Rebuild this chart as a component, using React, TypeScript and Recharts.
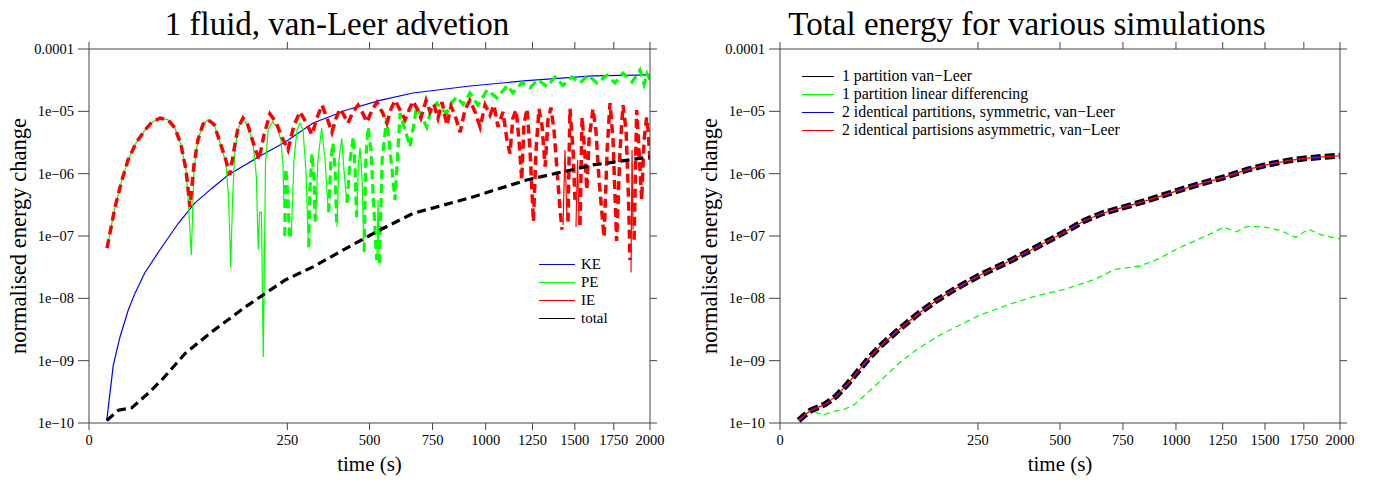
import React from "react";
import { LineChart, Line, XAxis, YAxis, Legend } from "recharts";

type Pt = [number, number];

const TIME_TICKS = [0, 250, 500, 750, 1000, 1250, 1500, 1750, 2000];
const ENERGY_TICKS = [1e-10, 1e-9, 1e-8, 1e-7, 1e-6, 1e-5, 1e-4];
const ENERGY_LABELS = ["1e\u221210", "1e\u221209", "1e\u221208", "1e\u221207", "1e\u221206", "1e\u221205", "0.0001"];

// left panel: signed normalised energy change [time (s), value]
// negative stretches are drawn thick dashed as |value|
const KE: Pt[] = [
  [2.0, 1.1e-10], [3.75, 8.5e-10], [6.1, 2.4e-9], [9.8, 6.5e-9], [13.4, 1.2e-8], [19.9, 2.6e-8],
  [33.6, 6.6e-8], [50.7, 1.6e-7], [71.4, 3.4e-7], [95.7, 5.8e-7], [123, 9.5e-7], [190, 2.0e-6],
  [244, 3.2e-6], [319, 6.5e-6], [422, 1.05e-5], [538, 1.5e-5], [667, 1.97e-5], [922, 2.55e-5],
  [1217, 3.1e-5], [1614, 3.7e-5], [2000, 3.85e-5],
];

const PE: Pt[] = [
  [2.06, 6.4e-8], [4.3, 2.9e-7], [6.9, 7.9e-7], [9.7, 1.66e-6], [14.0, 3.1e-6], [19.9, 5.0e-6],
  [25.2, 6.7e-6], [32.0, 7.8e-6], [39.7, 7.3e-6], [47.0, 5.4e-6], [53.8, 2.9e-6], [59.8, 1.15e-6],
  [62.5, 4.0e-7], [66.5, 4.9e-8], [70.1, 1.2e-6], [75.5, 3.5e-6], [82.6, 6.2e-6], [90.0, 7.3e-6],
  [99.3, 6.2e-6], [109, 3.2e-6], [119, 1.5e-6], [124, 4.0e-7], [127.6, 3.1e-8], [131, 4.0e-7],
  [135, 2.2e-6], [141, 5.2e-6], [150.7, 7.6e-6], [160.7, 5.8e-6], [171, 3.0e-6], [178, 9.0e-7],
  [182, 6.0e-8], [185, 2.4e-7], [189, 2.4e-7], [193, 1.15e-9], [198, 1.5e-6], [204, 5.0e-6],
  [214, 6.8e-6], [224.6, 5.6e-6], [234, 3.5e-6], [239, 1.4e-6], [242, 2.9e-7], [243.5, -1.0e-7],
  [246, -1.2e-6], [250, -6.0e-7], [256, -9.6e-8], [260, 9.6e-8], [267, 1.66e-6], [275, 5.0e-6],
  [283, 6.5e-6], [291, 5.0e-6], [299, 1.15e-6], [306, 6.6e-8], [307, -6.6e-8], [310, -5.5e-7],
  [316, -2.1e-6], [322, -7.9e-7], [325, -1.7e-7], [326, 1.7e-7], [333, 1.66e-6], [344, 5.4e-6],
  [354, 1.66e-6], [364, 2.4e-7], [365, -2.4e-7], [372, -1.66e-6], [378, -3.1e-6], [385, -1.15e-6],
  [390, -1.4e-7], [391, 1.4e-7], [397, 1.66e-6], [406, 3.7e-6], [413, 1.15e-6], [422, 3.4e-7],
  [423, -3.4e-7], [433, -1.66e-6], [444, -3.9e-6], [450, -1.15e-6], [455, -2.0e-7], [456, 2.0e-7],
  [461, 1.4e-6], [467, 2.6e-6], [474, 7.9e-7], [480, 5.6e-8], [481, -5.6e-8], [487, -1.66e-6],
  [495, -5.6e-6], [505, -2.4e-6], [514, -3.8e-7], [526, -4.1e-8], [527, 4.1e-8], [531, 3.8e-7],
  [535, 3.7e-8], [536, -3.7e-8], [546, -1.66e-6], [563, -7.8e-6], [576, -2.4e-6], [595, -3.8e-7],
  [615, -9.4e-6], [635, -5.0e-6], [655, -2.7e-6], [682, -1.17e-5], [700, -8.7e-6], [725, -5.6e-6],
  [743, -1.05e-5], [769, -1.36e-5], [787, -1.1e-5], [813, -9.4e-6], [837, -1.4e-5], [859, -1.7e-5],
  [889, -1.3e-5], [922, -1.97e-5], [961, -1.26e-5], [1007, -2.2e-5], [1058, -1.64e-5], [1112, -2.6e-5],
  [1142, -1.97e-5], [1191, -2.9e-5], [1236, -2.4e-5], [1281, -3.2e-5], [1333, -2.5e-5], [1380, -3.55e-5],
  [1428, -2.6e-5], [1482, -3.55e-5], [1532, -2.85e-5], [1582, -3.8e-5], [1640, -2.85e-5], [1705, -3.8e-5],
  [1758, -2.85e-5], [1812, -4.1e-5], [1874, -2.95e-5], [1929, -4.6e-5], [1958, -2.7e-5], [1979, -4.0e-5],
  [2000, -3.2e-5],
];

const IE: Pt[] = [
  [2.06, -6.4e-8], [4.3, -2.9e-7], [6.9, -7.9e-7], [9.7, -1.66e-6], [14.0, -3.1e-6], [19.9, -5.0e-6],
  [25.2, -6.7e-6], [32.0, -7.8e-6], [39.7, -7.3e-6], [47.0, -5.4e-6], [53.8, -2.9e-6], [59.8, -1.15e-6],
  [64.8, -2.9e-7], [70.1, -1.4e-6], [75.5, -3.5e-6], [82.6, -6.2e-6], [90.0, -7.3e-6], [99.3, -6.2e-6],
  [109, -3.2e-6], [119, -1.66e-6], [126, -9.5e-7], [133.6, -2.4e-6], [141, -5.4e-6], [150.7, -7.8e-6],
  [160.7, -6.0e-6], [171, -3.2e-6], [183.7, -1.66e-6], [194.6, -4.2e-6], [208, -9.1e-6], [222, -6.7e-6],
  [237, -3.8e-6], [251.7, -2.4e-6], [267, -6.0e-6], [283, -9.8e-6], [299, -6.7e-6], [316, -4.2e-6],
  [330, -7.8e-6], [345, -1.26e-5], [360, -7.8e-6], [375, -4.6e-6], [388, -7.8e-6], [400, -1.1e-5],
  [413, -8.7e-6], [426, -6.5e-6], [443, -9.8e-6], [460, -1.26e-5], [474, -9.8e-6], [491, -6.7e-6],
  [509, -1.05e-5], [527, -1.4e-5], [546, -9.8e-6], [564, -6.5e-6], [580, -1.1e-5], [595, -1.5e-5],
  [615, -1.05e-5], [635, -7.3e-6], [651, -1.05e-5], [667, -1.46e-5], [684, -1.1e-5], [700, -7.8e-6],
  [722, -1.5e-5], [739, -9.8e-6], [756, -1.3e-5], [774, -7.8e-6], [792, -1.4e-5], [814, -6.0e-6],
  [833, -1.2e-5], [851, -8.7e-6], [875, -4.6e-6], [898, -1.05e-5], [922, -1.5e-5], [947, -9.8e-6],
  [972, -5.6e-6], [997, -1.26e-5], [1022, -8.7e-6], [1042, -1.26e-5], [1063, -5.6e-6], [1089, -9.8e-6],
  [1110, -3.5e-6], [1126, -2.1e-6], [1142, -7.8e-6], [1159, -1.05e-5], [1175, -3.5e-6], [1190, -7.9e-7],
  [1202, -6.0e-6], [1219, -1.1e-5], [1236, -2.4e-6], [1255, -1.7e-7], [1270, -2.4e-6], [1287, -1.1e-5],
  [1304, -6.0e-6], [1322, -1.3e-6], [1339, -7.3e-6], [1356, -1.15e-5], [1374, -5.0e-6], [1392, -1.15e-6],
  [1410, -2.6e-7], [1422, -1.26e-7], [1428, 1.5e-7], [1440, 2.4e-6], [1452, 1.8e-7], [1458, -1.7e-7],
  [1470, -1.1e-5], [1489, -2.4e-6], [1501, -3.8e-7], [1507, 1.4e-7], [1517, 1.66e-6], [1526, 1.5e-7],
  [1532, -1.5e-7], [1545, -8.0e-6], [1561, -2.4e-6], [1575, -5.5e-7], [1589, -3.5e-6], [1614, -1.1e-5],
  [1633, -5.0e-6], [1653, -7.9e-7], [1686, -9.6e-8], [1706, -2.4e-6], [1725, -1.36e-5], [1745, -3.5e-6],
  [1769, -8.3e-8], [1792, -2.4e-6], [1812, -1.26e-5], [1833, -5.0e-6], [1850, -3.8e-7], [1860, -4.1e-8],
  [1867, 2.6e-8], [1874, 2.4e-6], [1881, 1.26e-7], [1888, -8.7e-8], [1906, -1.05e-5], [1922, -2.4e-6],
  [1941, -3.8e-7], [1958, -3.5e-6], [1976, -8.0e-6], [1986, -5.0e-6], [2000, -1.66e-6],
];

const TOTAL: Pt[] = [
  [2.0, -1.1e-10], [5.5, -1.6e-10], [11.6, -1.75e-10], [22.3, -3.0e-10], [33.6, -4.9e-10],
  [58.6, -1.3e-9], [95.7, -2.9e-9], [154.6, -7.2e-9], [244, -1.96e-8], [319, -3.2e-8],
  [422, -6.4e-8], [538, -1.25e-7], [667, -2.3e-7], [922, -4.1e-7], [1217, -7.9e-7],
  [1614, -1.38e-6], [2000, -1.85e-6],
];

// right panel: magnitude of total energy change per run
const VANLEER_1: Pt[] = [
  [2.2, 1.1e-10], [3.9, 1.34e-10], [5.9, 1.58e-10], [9.1, 1.78e-10], [13, 2.0e-10], [20.2, 2.7e-10],
  [29, 4.2e-10], [39.3, 6.9e-10], [51.2, 1.13e-9], [64.7, 1.74e-9], [90.7, 3.2e-9], [121, 5.6e-9],
  [156, 9.2e-9], [195, 1.41e-8], [252, 2.3e-8], [338, 4.0e-8], [419, 6.6e-8], [504, 1.08e-7],
  [591, 1.76e-7], [665, 2.34e-7], [755, 2.9e-7], [879, 3.9e-7], [1005, 5.3e-7], [1121, 6.8e-7],
  [1255, 8.7e-7], [1394, 1.16e-6], [1506, 1.38e-6], [1647, 1.62e-6], [1759, 1.76e-6], [1896, 1.87e-6],
  [2000, 1.94e-6],
];

const LINEAR_1: Pt[] = [
  [2.2, 1.1e-10], [5.9, 1.58e-10], [9.1, 1.45e-10], [12, 1.34e-10], [17.6, 1.52e-10], [25.9, 1.64e-10],
  [35.7, 2.0e-10], [47.1, 2.9e-10], [64.7, 4.8e-10], [90.7, 9.2e-10], [121, 1.54e-9], [156, 2.4e-9],
  [195, 3.4e-9], [252, 5.3e-9], [338, 8.1e-9], [419, 1.1e-8], [521, 1.41e-8], [635, 2.04e-8],
  [712, 2.9e-8], [827, 3.3e-8], [914, 4.3e-8], [1005, 6.2e-8], [1121, 9.0e-8], [1202, 1.15e-7],
  [1255, 1.38e-7], [1328, 1.17e-7], [1394, 1.43e-7], [1506, 1.38e-7], [1599, 1.22e-7], [1696, 9.5e-8],
  [1781, 1.29e-7], [1870, 1.04e-7], [2000, 9.0e-8],
];

// the two-partition van-Leer runs lie on top of the single partition run
const SYM_2: Pt[] = VANLEER_1;
const ASYM_2: Pt[] = VANLEER_1;

const LEFT_LEGEND = [
  { label: "KE", color: "#0000ff" },
  { label: "PE", color: "#00ff00" },
  { label: "IE", color: "#ff0000" },
  { label: "total", color: "#000000" },
];

const RIGHT_LEGEND = [
  { label: "1 partition van\u2212Leer", color: "#000000" },
  { label: "1 partition linear differencing", color: "#00ff00" },
  { label: "2 identical partitions, symmetric, van\u2212Leer", color: "#0000ff" },
  { label: "2 identical partisions asymmetric, van\u2212Leer", color: "#ff0000" },
];

const SERIF = '"Liberation Serif", "Times New Roman", serif';
const FRAME = "#444";

function energyLabel(v: number) {
  const i = ENERGY_TICKS.findIndex((e) => Math.abs(Math.log10(e) - Math.log10(v)) < 1e-6);
  return i >= 0 ? ENERGY_LABELS[i] : "";
}

// split signed data into the positive (solid) or negative (dashed) stretch
const part = (pts: Pt[], sign: number) =>
  pts.map(([t, v]) => ({ t, v: Math.sign(v) === sign ? Math.abs(v) : null }));

const asRows = (pts: Pt[]) => pts.map(([t, v]) => ({ t, v }));

interface LegendProps {
  items: { label: string; color: string }[];
  rowH: number;
  lineW: number;
  gap: number;
  fontSize: number;
}

function LegendBox({ items, rowH, lineW, gap, fontSize }: LegendProps) {
  return (
    <div style={{ fontFamily: SERIF, fontSize, color: "#000" }}>
      {items.map((it) => (
        <div key={it.label} style={{ position: "relative", height: rowH, whiteSpace: "nowrap" }}>
          <div
            style={{
              position: "absolute",
              left: 0,
              top: Math.floor(rowH / 2),
              width: lineW,
              height: 1,
              background: it.color,
            }}
          />
          <span style={{ position: "absolute", left: lineW + gap, top: 0, lineHeight: `${rowH}px` }}>{it.label}</span>
        </div>
      ))}
    </div>
  );
}

interface PanelProps {
  left: number;
  width: number;
  plotLeft: number;
  title: string;
  legend: React.ReactNode;
  legendPos: { left: number; top: number };
  children: React.ReactNode;
}

function Panel({ left, width, plotLeft, title, legend, legendPos, children }: PanelProps) {
  const tickStyle = { fill: "#000", fontSize: 14.5, fontFamily: SERIF };
  return (
    <div style={{ position: "absolute", left, top: 0, width, height: 484 }}>
      <div
        style={{
          position: "absolute",
          left: 0,
          top: 8,
          width: 674,
          textAlign: "center",
          fontFamily: SERIF,
          fontSize: 33,
          lineHeight: "33px",
          color: "#000",
          whiteSpace: "nowrap",
        }}
      >
        {title}
      </div>
      <LineChart
        width={width}
        height={484}
        margin={{ top: 42, right: width - 650 - 7, bottom: 6, left: plotLeft - 80 }}
        style={{ fontFamily: SERIF }}
      >
        <XAxis
          dataKey="t"
          type="number"
          scale="sqrt"
          domain={[0, 2000]}
          ticks={TIME_TICKS}
          interval={0}
          allowDataOverflow
          height={55}
          tickSize={7}
          tickMargin={5}
          axisLine={{ stroke: FRAME }}
          tickLine={{ stroke: FRAME }}
          tick={tickStyle}
          label={{ value: "time (s)", position: "insideBottom", offset: 7, fill: "#000", fontSize: 21, fontFamily: SERIF }}
        />
        <XAxis
          xAxisId="top"
          orientation="top"
          dataKey="t"
          type="number"
          scale="sqrt"
          domain={[0, 2000]}
          ticks={TIME_TICKS}
          interval={0}
          allowDataOverflow
          height={7}
          tickSize={7}
          axisLine={{ stroke: FRAME }}
          tickLine={{ stroke: FRAME }}
          tickFormatter={() => ""}
        />
        <YAxis
          type="number"
          scale="log"
          domain={[1e-10, 1e-4]}
          ticks={ENERGY_TICKS}
          interval={0}
          allowDataOverflow
          width={80}
          tickSize={11}
          tickMargin={4}
          axisLine={{ stroke: FRAME }}
          tickLine={{ stroke: FRAME }}
          tick={tickStyle}
          tickFormatter={energyLabel}
          label={{
            value: "normalised energy change",
            angle: -90,
            position: "insideLeft",
            offset: 9,
            fill: "#000",
            fontSize: 22.5,
            fontFamily: SERIF,
            style: { textAnchor: "middle" },
          }}
        />
        <YAxis
          yAxisId="right"
          orientation="right"
          type="number"
          scale="log"
          domain={[1e-10, 1e-4]}
          ticks={ENERGY_TICKS}
          interval={0}
          allowDataOverflow
          width={7}
          tickSize={7}
          axisLine={{ stroke: FRAME }}
          tickLine={{ stroke: FRAME }}
          tickFormatter={() => ""}
        />
        {children}
        <Legend
          layout="vertical"
          align="center"
          verticalAlign="middle"
          wrapperStyle={{ left: legendPos.left, top: legendPos.top, width: 340 }}
          content={() => legend}
        />
      </LineChart>
    </div>
  );
}

const DASH = "9 5";

export default function App() {
  return (
    <div style={{ position: "absolute", left: 0, top: 0, width: 1379, height: 484, background: "#fff", overflow: "hidden" }}>
      <Panel
        left={0}
        width={690}
        plotLeft={89}
        title="1 fluid, van-Leer advetion"
        legendPos={{ left: 539, top: 255 }}
        legend={<LegendBox items={LEFT_LEGEND} rowH={18} lineW={36} gap={6} fontSize={15} />}
      >
        <Line data={asRows(KE)} dataKey="v" stroke="#0000ff" strokeWidth={1.2} dot={false} isAnimationActive={false} legendType="none" />
        <Line data={part(PE, 1)} dataKey="v" stroke="#00ff00" strokeWidth={1.2} dot={false} isAnimationActive={false} legendType="none" />
        <Line data={part(PE, -1)} dataKey="v" stroke="#00ff00" strokeWidth={3.2} strokeDasharray={DASH} dot={false} isAnimationActive={false} legendType="none" />
        <Line data={part(IE, 1)} dataKey="v" stroke="#ff0000" strokeWidth={1.2} dot={false} isAnimationActive={false} legendType="none" />
        <Line data={part(IE, -1)} dataKey="v" stroke="#ff0000" strokeWidth={3.5} strokeDasharray={DASH} dot={false} isAnimationActive={false} legendType="none" />
        <Line data={part(TOTAL, -1)} dataKey="v" stroke="#000000" strokeWidth={3.2} strokeDasharray={DASH} dot={false} isAnimationActive={false} legendType="none" />
      </Panel>
      <Panel
        left={690}
        width={689}
        plotLeft={90}
        title="Total energy for various simulations"
        legendPos={{ left: 112, top: 67 }}
        legend={<LegendBox items={RIGHT_LEGEND} rowH={18} lineW={32} gap={8} fontSize={15.8} />}
      >
        <Line data={asRows(VANLEER_1)} dataKey="v" stroke="#000000" strokeWidth={6} strokeDasharray="10 4" dot={false} isAnimationActive={false} legendType="none" />
        <Line data={asRows(LINEAR_1)} dataKey="v" stroke="#00ff00" strokeWidth={1.3} strokeDasharray="6 4" dot={false} isAnimationActive={false} legendType="none" />
        <Line data={asRows(SYM_2)} dataKey="v" stroke="#0000ff" strokeWidth={2.4} strokeDasharray="6 8" strokeDashoffset={-2} dot={false} isAnimationActive={false} legendType="none" />
        <Line data={asRows(ASYM_2)} dataKey="v" stroke="#ff0000" strokeWidth={1.2} dot={false} isAnimationActive={false} legendType="none" />
      </Panel>
    </div>
  );
}
